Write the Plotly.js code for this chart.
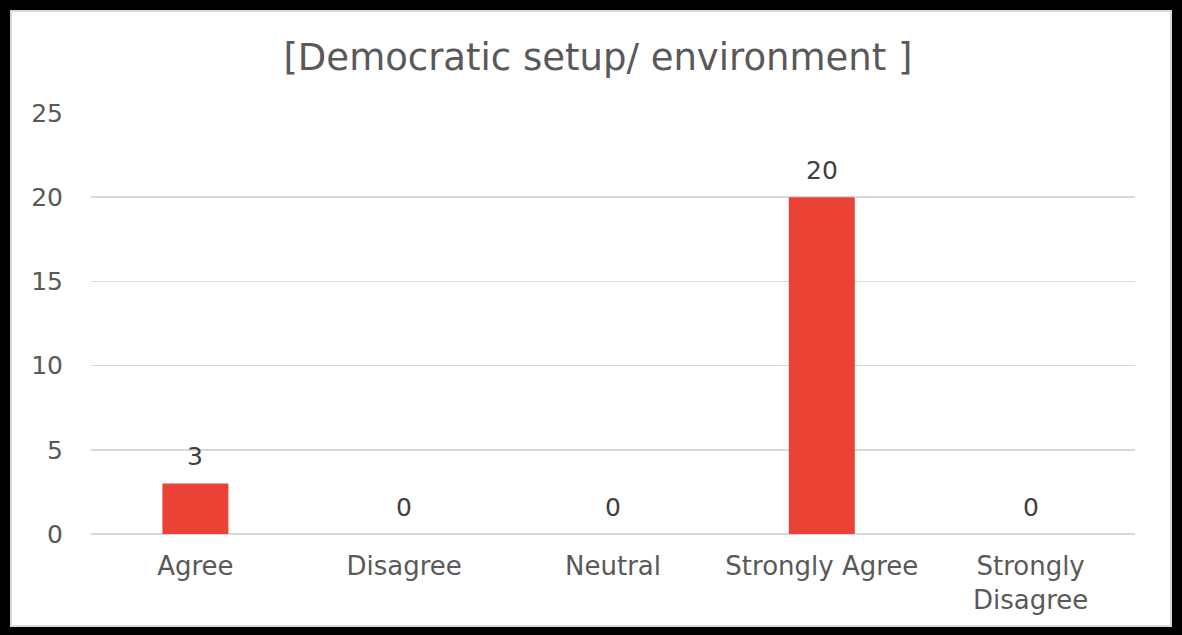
<!DOCTYPE html>
<html>
<head>
<meta charset="utf-8">
<script src="https://cdn.plot.ly/plotly-3.0.1.min.js"></script>
<style>
  html, body { margin: 0; padding: 0; background: #000; width: 1182px; height: 635px; overflow: hidden; }
  #frame { position: absolute; left: 10px; top: 10px; width: 1162px; height: 617px; background: #fff; box-shadow: inset 0 0 0 2px #d9d9d9; }
  #chart { position: absolute; left: 0; top: 0; width: 1162px; height: 617px; }
</style>
</head>
<body>
<div id="frame"><div id="chart"></div></div>
<script>
const categories = ["Agree", "Disagree", "Neutral", "Strongly Agree", "Strongly<br>Disagree"];
const counts = [3, 0, 0, 20, 0];
const yTicks = [0, 5, 10, 15, 20, 25];
const chartTitle = "[Democratic setup/ environment ]";

const font = "DejaVu Sans, Arial, sans-serif";
const grey = "#595959";

const trace = {
  type: "bar",
  x: categories,
  y: counts,
  marker: { color: "#EA4335" },
  hoverinfo: "none"
};

const annotations = categories.map((c, i) => ({
  x: c, y: counts[i], xref: "x", yref: "y",
  text: String(counts[i]), showarrow: false,
  yanchor: "bottom", yshift: 10,
  font: { family: font, size: 25, color: "#404040" }
}));

const layout = {
  width: 1162, height: 617,
  margin: { l: 81, r: 37, t: 103, b: 93 },
  paper_bgcolor: "rgba(0,0,0,0)",
  plot_bgcolor: "rgba(0,0,0,0)",
  bargap: 0.684,
  showlegend: false,
  title: {
    text: chartTitle,
    font: { family: font, size: 37, color: grey },
    xref: "container", x: 0.506, xanchor: "center",
    yref: "container", y: 0.924, yanchor: "middle"
  },
  xaxis: {
    type: "category",
    showgrid: false, zeroline: false, showline: false,
    ticks: "outside", ticklen: 9, tickcolor: "rgba(0,0,0,0)",
    tickfont: { family: font, size: 26, color: grey },
    fixedrange: true
  },
  yaxis: {
    range: [0, 25],
    tickvals: yTicks,
    showgrid: true, gridcolor: "#d9d9d9", gridwidth: 1.5,
    zeroline: true, zerolinecolor: "#d9d9d9", zerolinewidth: 1.5,
    showline: false,
    ticks: "outside", ticklen: 22, tickcolor: "rgba(0,0,0,0)",
    tickfont: { family: font, size: 25, color: grey },
    fixedrange: true
  },
  annotations: annotations
};

Plotly.newPlot("chart", [trace], layout, { displayModeBar: false, staticPlot: true });
</script>
</body>
</html>
